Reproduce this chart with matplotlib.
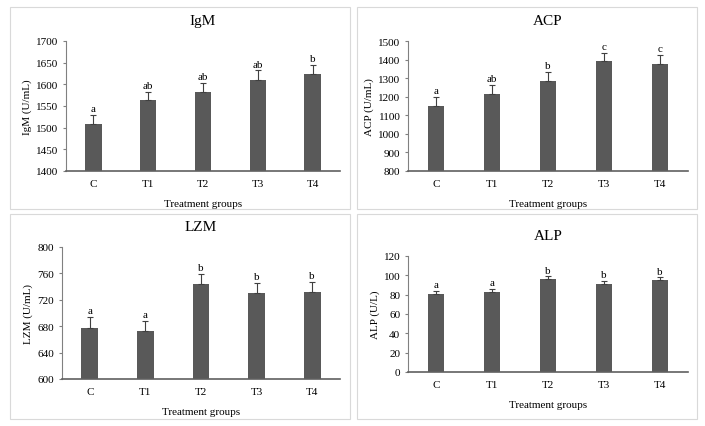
import matplotlib
matplotlib.use('Agg')
import matplotlib.pyplot as plt
from matplotlib.patches import Rectangle

plt.rcParams['font.family'] = ['Liberation Serif', 'DejaVu Serif']

groups = ['C', 'T1', 'T2', 'T3', 'T4']

igm = [1509, 1563, 1583, 1610, 1625]
igm_err = [21, 20, 21, 22, 20]
igm_sig = ['a', 'ab', 'ab', 'ab', 'b']

acp = [1152, 1217, 1285, 1390, 1378]
acp_err = [47, 47, 47, 47, 47]
acp_sig = ['a', 'ab', 'b', 'c', 'c']

lzm = [678, 673, 744, 731, 732]
lzm_err = [16, 15, 15, 15, 15]
lzm_sig = ['a', 'a', 'b', 'b', 'b']

alp = [81, 83, 96, 91, 95]
alp_err = [3, 3, 3, 3, 3]
alp_sig = ['a', 'a', 'b', 'b', 'b']

W, H = 705, 427
fig = plt.figure(figsize=(W / 100, H / 100), dpi=100)

# panel boxes (px): x0, y0, x1, y1
boxes = [(10, 8, 350, 210), (357, 8, 697, 210), (10, 215, 350, 420), (357, 215, 697, 420)]
for x0, y0, x1, y1 in boxes:
    fig.patches.append(Rectangle((x0 / W, 1 - y1 / H), (x1 - x0) / W, (y1 - y0) / H,
                                 transform=fig.transFigure, fill=False, ec='#d9d9d9', lw=0.8))

panels = [
    ('IgM', igm, igm_err, igm_sig, 'IgM (U/mL)', (1400, 1700), 50, (66, 42, 340, 172)),
    ('ACP', acp, acp_err, acp_sig, 'ACP (U/mL)', (800, 1500), 100, (408, 42, 688, 172)),
    ('LZM', lzm, lzm_err, lzm_sig, 'LZM (U/mL)', (600, 800), 40, (62, 248, 340, 380)),
    ('ALP', alp, alp_err, alp_sig, 'ALP (U/L)', (0, 120), 20, (408, 257, 688, 373)),
]

for title, vals, errs, sig, ylabel, ylim, step, (x0, y0, x1, y1) in panels:
    ax = fig.add_axes([x0 / W, 1 - y1 / H, (x1 - x0) / W, (y1 - y0) / H])
    x = range(len(groups))
    ax.bar(x, vals, width=0.3, color='#595959', zorder=2)
    ax.errorbar(x, vals, yerr=[[0] * 5, errs], fmt='none', ecolor='#404040',
                elinewidth=0.8, capsize=2, capthick=0.8, zorder=3)
    span = ylim[1] - ylim[0]
    for i, (v, e, s) in enumerate(zip(vals, errs, sig)):
        ax.text(i, v + e + span * 0.015, s, ha='center', va='bottom', fontsize=8)
    ax.set_ylim(*ylim)
    ax.set_xlim(-0.5, 4.5)
    ax.set_yticks(range(ylim[0], ylim[1] + 1, step))
    ax.set_xticks(list(x))
    ax.set_xticklabels(groups)
    ax.tick_params(labelsize=8, length=2, color='#808080')
    ax.tick_params(axis='x', length=0, pad=6)
    for sp in ['top', 'right']:
        ax.spines[sp].set_visible(False)
    ax.spines['left'].set_color('#808080')
    ax.spines['bottom'].set_color('#606060')
    ax.spines['bottom'].set_linewidth(1.2)
    ax.set_ylabel(ylabel, fontsize=8, labelpad=3)
    ax.set_xlabel('Treatment groups', fontsize=8, labelpad=8)
    ax.set_title(title, fontsize=11, pad=12)

fig.savefig('out.png', dpi=100)
